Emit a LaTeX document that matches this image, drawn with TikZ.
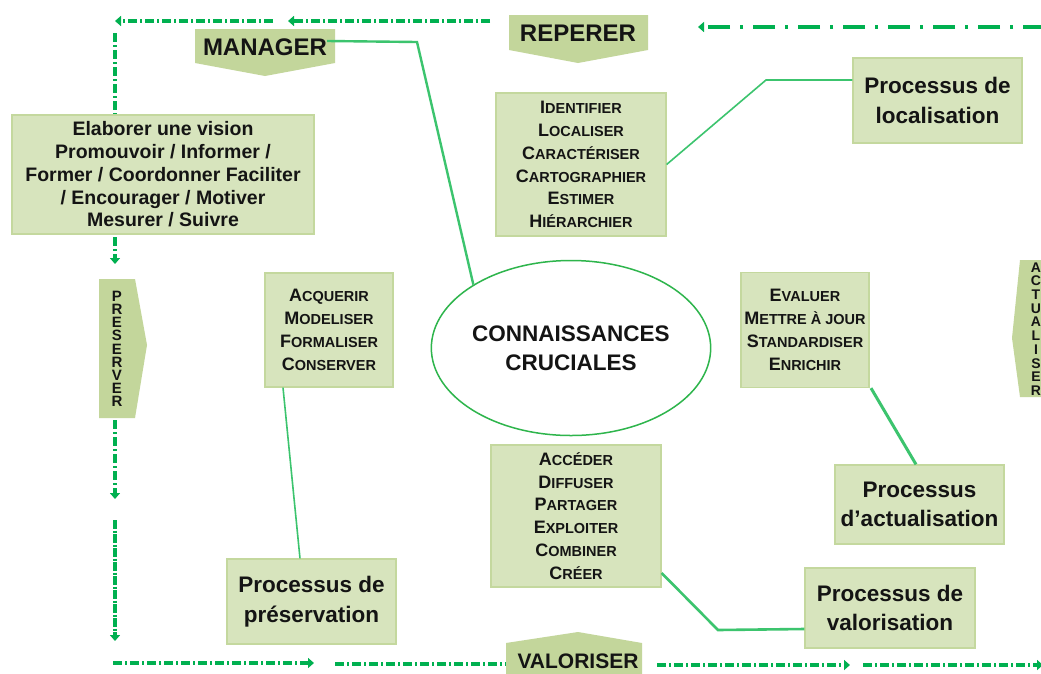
\documentclass[tikz,border=0pt]{standalone}
\usepackage{fontspec}
\setmainfont{Liberation Sans}
\usetikzlibrary{shapes.geometric,arrows.meta,calc}
\definecolor{boxfill}{HTML}{D7E4BD}
\definecolor{boxline}{HTML}{C4D89E}
\definecolor{pentfill}{HTML}{C3D69B}
\definecolor{dashgreen}{HTML}{00B050}
\definecolor{conngreen}{HTML}{3CC46E}
\definecolor{ellgreen}{HTML}{2EB54C}
\newcommand\SCp[2]{{\fontsize{18}{22.8}\selectfont #1}{\fontsize{14.5}{22.8}\selectfont #2}}
\begin{document}
\begin{tikzpicture}[x=1pt,y=-1pt,
  box/.style={fill=boxfill, draw=boxline, line width=1.2pt, align=center, inner sep=0pt, text=black!92},
  proc/.style={box, font=\bfseries\fontsize{22.5}{29.5}\selectfont},
  scbox/.style={box, font=\bfseries\fontsize{18}{22.8}\selectfont},
  pentshape/.style={fill=pentfill, draw=none},
  penttxt/.style={font=\bfseries\fontsize{24}{26}\selectfont, text=black!92, inner sep=0pt},
  vtxt/.style={font=\bfseries\fontsize{15}{13.2}\selectfont, text=black!92, inner sep=0pt, align=center},
  dd/.style={dashgreen, line width=4.5pt, dash pattern=on 9pt off 3pt on 2pt off 3pt},
  ddlong/.style={dashgreen, line width=4.5pt, dash pattern=on 22pt off 10pt on 3pt off 10pt},
  tip/.style={-{Triangle[width=10pt,length=6pt]}},
  conn/.style={conngreen, line width=1.6pt},
  connthick/.style={conngreen, line width=2.6pt}
]
\useasboundingbox[fill=white] (0,0) rectangle (1041,673);

% dash-dot flow lines
\coordinate (t1a) at (273,21); \coordinate (t1b) at (115,21);
\coordinate (t2a) at (490,21); \coordinate (t2b) at (288,21);
\coordinate (t3a) at (1045,27); \coordinate (t3b) at (698,27);
\coordinate (l1a) at (115,33); \coordinate (l1b) at (115,264);
\coordinate (l2a) at (115,420); \coordinate (l2b) at (115,499);
\coordinate (l3a) at (115,520); \coordinate (l3b) at (115,641);
\coordinate (b1a) at (113,663); \coordinate (b1b) at (314,663);
\coordinate (b2a) at (335,664); \coordinate (b2b) at (510,664);
\coordinate (b3a) at (657,665); \coordinate (b3b) at (850,665);
\coordinate (b4a) at (863,665); \coordinate (b4b) at (1043,665);
\draw[dd,tip] (t1a) -- (t1b);
\draw[dd,tip] (t2a) -- (t2b);
\draw[ddlong,tip] (t3a) -- (t3b);
\draw[dd,tip] (l1a) -- (l1b);
\draw[dd,tip] (l2a) -- (l2b);
\draw[dd,tip,dash pattern=on 9pt off 1.5pt on 2pt off 1.5pt] (l3a) -- (l3b);
\draw[dd,tip] (b1a) -- (b1b);
\draw[dd] (b2a) -- (b2b);
\draw[dd,tip] (b3a) -- (b3b);
\draw[dd,tip] (b4a) -- (b4b);

% arrow-shaped labels
\fill[pentshape] (195,29) -- (335,29) -- (335,63) -- (265,76) -- (195,63) -- cycle;
\node[penttxt] (mgr) at (265,47) {MANAGER};
\fill[pentshape] (509,15) -- (648,15) -- (648,50) -- (578,63) -- (509,50) -- cycle;
\node[penttxt] (rep) at (578,33) {REPERER};
\fill[pentshape] (506,643) -- (578,632) -- (642,643) -- (642,680) -- (506,680) -- cycle;
\node[penttxt, font=\bfseries\fontsize{21}{24}\selectfont] (val) at (578,661) {VALORISER};
\fill[pentshape] (99,279) -- (135,279) -- (147,345) -- (135,418) -- (99,418) -- cycle;
\node[vtxt] (pre) at (117,349) {P\\R\\E\\S\\E\\R\\V\\E\\R};
\fill[pentshape] (1020,260) -- (1050,260) -- (1050,397) -- (1020,397) -- (1012,338) -- cycle;
\node[vtxt, font=\bfseries\fontsize{14}{13.7}\selectfont] (actu) at (1036,329) {A\\C\\T\\U\\A\\L\\I\\S\\E\\R};

% central ellipse
\node[ellipse, draw=ellgreen, line width=1.5pt, fill=white, minimum width=272, minimum height=175, inner sep=0pt, align=center,
  font=\bfseries\fontsize{22.5}{29.5}\selectfont, text=black!92] (ell) at (571,348) {CONNAISSANCES\\CRUCIALES};

% boxes
\node[box, minimum width=302, minimum height=119, font=\bfseries\fontsize{19.5}{22.7}\selectfont] (elab) at (163,174.5)
  {Elaborer une vision\\Promouvoir / Informer /\\Former / Coordonner Faciliter\\/ Encourager / Motiver\\Mesurer / Suivre};
\node[scbox, minimum width=170, minimum height=143] (ident) at (581,164.5)
  {\SCp{I}{DENTIFIER}\\\SCp{L}{OCALISER}\\\SCp{C}{ARACTÉRISER}\\\SCp{C}{ARTOGRAPHIER}\\\SCp{E}{STIMER}\\\SCp{H}{IÉRARCHIER}};
\node[proc, minimum width=169, minimum height=85] (loc) at (937.5,100.5) {Processus de\\localisation};
\node[scbox, minimum width=128, minimum height=114] (acq) at (329,330)
  {\SCp{A}{CQUERIR}\\\SCp{M}{ODELISER}\\\SCp{F}{ORMALISER}\\\SCp{C}{ONSERVER}};
\node[proc, minimum width=169, minimum height=85] (pres) at (311.5,601.5) {Processus de\\préservation};
\node[scbox, minimum width=128, minimum height=115] (eva) at (805,330)
  {\SCp{E}{VALUER}\\\SCp{M}{ETTRE À JOUR}\\\SCp{S}{TANDARDISER}\\\SCp{E}{NRICHIR}};
\node[proc, minimum width=169, minimum height=79] (act) at (919.5,504.5) {Processus\\d’actualisation};
\node[scbox, minimum width=170, minimum height=142] (acc) at (576,516)
  {\SCp{A}{CCÉDER}\\\SCp{D}{IFFUSER}\\\SCp{P}{ARTAGER}\\\SCp{E}{XPLOITER}\\\SCp{C}{OMBINER}\\\SCp{C}{RÉER}};
\node[proc, minimum width=170, minimum height=80] (valo) at (890,608) {Processus de\\valorisation};

% connectors
\draw[connthick, line width=2.4pt] (mgr.east |- 0,41) -- (417,42) -- (ell.147);
\draw[conn] (ident.east) -- (766,80) -- (loc.west |- 0,80);
\draw[conn] (283,0 |- acq.south) -- (300,0 |- pres.north);
\draw[connthick, line width=3pt] (871,0 |- eva.south) -- (916,0 |- act.north);
\draw[connthick] (acc.east |- 0,573) -- (718,630) -- (valo.west |- 0,629);
\end{tikzpicture}
\end{document}
